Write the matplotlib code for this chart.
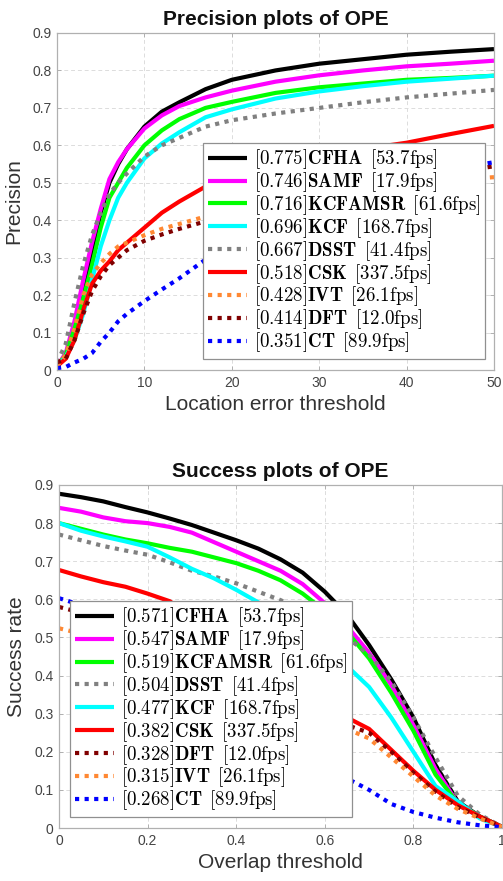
import matplotlib
matplotlib.use("Agg")
import matplotlib.pyplot as plt
import numpy as np

# ---------------- data ----------------
trackers_p = ["CFHA", "SAMF", "KCFAMSR", "KCF", "DSST", "CSK", "IVT", "DFT", "CT"]
scores_p = ["0.775", "0.746", "0.716", "0.696", "0.667", "0.518", "0.428", "0.414", "0.351"]
fps_p = ["53.7", "17.9", "61.6", "168.7", "41.4", "337.5", "26.1", "12.0", "89.9"]

prec_x = [0, 1, 2, 3, 4, 5, 6, 7, 8, 10, 12, 14, 17, 20, 25, 30, 35, 40, 45, 50]
prec_CFHA = [0.01, 0.04, 0.12, 0.22, 0.32, 0.42, 0.50, 0.55, 0.59, 0.65, 0.69, 0.715, 0.75, 0.775, 0.80, 0.818, 0.83, 0.842, 0.85, 0.857]
prec_SAMF = [0.01, 0.045, 0.13, 0.24, 0.34, 0.43, 0.51, 0.555, 0.59, 0.645, 0.68, 0.705, 0.728, 0.746, 0.77, 0.787, 0.80, 0.811, 0.818, 0.826]
prec_KCFAMSR = [0.01, 0.04, 0.11, 0.19, 0.28, 0.38, 0.46, 0.50, 0.54, 0.60, 0.64, 0.67, 0.70, 0.716, 0.74, 0.755, 0.765, 0.775, 0.78, 0.786]
prec_KCF = [0.01, 0.035, 0.08, 0.15, 0.24, 0.33, 0.40, 0.46, 0.50, 0.565, 0.605, 0.635, 0.675, 0.696, 0.725, 0.744, 0.758, 0.77, 0.778, 0.786]
prec_DSST = [0.02, 0.07, 0.18, 0.28, 0.36, 0.42, 0.47, 0.50, 0.525, 0.57, 0.60, 0.62, 0.65, 0.667, 0.685, 0.70, 0.715, 0.728, 0.738, 0.748]
prec_CSK = [0.01, 0.03, 0.08, 0.16, 0.23, 0.265, 0.29, 0.32, 0.34, 0.38, 0.42, 0.45, 0.49, 0.518, 0.55, 0.572, 0.59, 0.607, 0.63, 0.652]
prec_IVT = [0.01, 0.04, 0.11, 0.20, 0.255, 0.285, 0.31, 0.33, 0.34, 0.36, 0.377, 0.39, 0.41, 0.428, 0.45, 0.47, 0.485, 0.497, 0.507, 0.515]
prec_DFT = [0.02, 0.03, 0.08, 0.15, 0.21, 0.25, 0.28, 0.30, 0.32, 0.345, 0.362, 0.377, 0.397, 0.414, 0.445, 0.47, 0.49, 0.51, 0.527, 0.544]
prec_CT = [0.005, 0.008, 0.02, 0.03, 0.045, 0.075, 0.10, 0.13, 0.15, 0.184, 0.215, 0.245, 0.295, 0.351, 0.41, 0.455, 0.49, 0.515, 0.535, 0.555]

trackers_s = ["CFHA", "SAMF", "KCFAMSR", "DSST", "KCF", "CSK", "DFT", "IVT", "CT"]
scores_s = ["0.571", "0.547", "0.519", "0.504", "0.477", "0.382", "0.328", "0.315", "0.268"]
fps_s = ["53.7", "17.9", "61.6", "41.4", "168.7", "337.5", "12.0", "26.1", "89.9"]

succ_x = [0, 0.05, 0.1, 0.15, 0.2, 0.25, 0.3, 0.35, 0.4, 0.45, 0.5, 0.55, 0.6, 0.65, 0.7, 0.75, 0.8, 0.85, 0.9, 0.95, 1.0]
succ_CFHA = [0.877, 0.868, 0.857, 0.842, 0.828, 0.812, 0.795, 0.775, 0.755, 0.733, 0.705, 0.67, 0.62, 0.56, 0.48, 0.39, 0.29, 0.165, 0.07, 0.03, 0.003]
succ_SAMF = [0.84, 0.83, 0.815, 0.805, 0.80, 0.79, 0.775, 0.75, 0.725, 0.70, 0.675, 0.64, 0.59, 0.53, 0.46, 0.375, 0.27, 0.155, 0.065, 0.03, 0.003]
succ_KCFAMSR = [0.80, 0.785, 0.77, 0.757, 0.747, 0.735, 0.725, 0.71, 0.695, 0.675, 0.65, 0.615, 0.57, 0.515, 0.445, 0.355, 0.255, 0.14, 0.065, 0.03, 0.003]
succ_DSST = [0.77, 0.755, 0.74, 0.728, 0.717, 0.697, 0.675, 0.66, 0.642, 0.62, 0.598, 0.57, 0.54, 0.50, 0.455, 0.385, 0.29, 0.185, 0.085, 0.035, 0.003]
succ_KCF = [0.80, 0.78, 0.765, 0.752, 0.738, 0.71, 0.68, 0.655, 0.625, 0.592, 0.55, 0.51, 0.47, 0.425, 0.37, 0.29, 0.20, 0.11, 0.07, 0.025, 0.003]
succ_CSK = [0.677, 0.66, 0.645, 0.633, 0.615, 0.595, 0.555, 0.52, 0.48, 0.44, 0.40, 0.36, 0.32, 0.29, 0.26, 0.205, 0.15, 0.10, 0.06, 0.03, 0.003]
succ_DFT = [0.58, 0.565, 0.55, 0.53, 0.51, 0.49, 0.465, 0.44, 0.41, 0.38, 0.35, 0.32, 0.29, 0.27, 0.25, 0.20, 0.145, 0.095, 0.055, 0.028, 0.003]
succ_IVT = [0.524, 0.51, 0.50, 0.49, 0.475, 0.46, 0.44, 0.42, 0.395, 0.37, 0.34, 0.31, 0.285, 0.26, 0.235, 0.185, 0.135, 0.085, 0.05, 0.025, 0.003]
succ_CT = [0.603, 0.585, 0.56, 0.52, 0.48, 0.44, 0.40, 0.36, 0.32, 0.28, 0.24, 0.20, 0.165, 0.13, 0.10, 0.063, 0.042, 0.027, 0.015, 0.007, 0.002]

prec_data = {"CFHA": prec_CFHA, "SAMF": prec_SAMF, "KCFAMSR": prec_KCFAMSR, "KCF": prec_KCF,
             "DSST": prec_DSST, "CSK": prec_CSK, "IVT": prec_IVT, "DFT": prec_DFT, "CT": prec_CT}
succ_data = {"CFHA": succ_CFHA, "SAMF": succ_SAMF, "KCFAMSR": succ_KCFAMSR, "KCF": succ_KCF,
             "DSST": succ_DSST, "CSK": succ_CSK, "IVT": succ_IVT, "DFT": succ_DFT, "CT": succ_CT}

styles = {
    "CFHA": ("#000000", "-"),
    "SAMF": ("#ff00ff", "-"),
    "KCFAMSR": ("#00ff00", "-"),
    "KCF": ("#00ffff", "-"),
    "DSST": ("#808080", ":"),
    "CSK": ("#ff0000", "-"),
    "IVT": ("#ff8833", ":"),
    "DFT": ("#800000", ":"),
    "CT": ("#0000ff", ":"),
}

# ---------------- style ----------------
plt.rcParams['font.family'] = ['Liberation Sans', 'DejaVu Sans']
plt.rcParams['mathtext.fontset'] = 'cm'

W, H = 503, 881
fig = plt.figure(figsize=(W / 100, H / 100), dpi=100)

ax1 = fig.add_axes([57 / W, (H - 370) / H, 437 / W, 337 / H])
ax2 = fig.add_axes([59 / W, (H - 828) / H, 443 / W, 343 / H])

tick_col = '#444444'
spine_col = '#b0b0b0'


def draw(ax, xs, data, order, scores, fpss, xlim, xticks, xticklabels):
    handles = []
    for name, sc, fp in zip(order, scores, fpss):
        col, ls = styles[name]
        lab = r'$[%s]\mathbf{%s}\ \,[%s\mathrm{fps}]$' % (sc, name, fp)
        if ls == ':':
            ln, = ax.plot(xs, data[name], color=col, lw=3.0, label=lab,
                          linestyle=(0, (1, 1.3)), dash_capstyle='butt')
        else:
            ln, = ax.plot(xs, data[name], color=col, lw=3.0, label=lab,
                          solid_capstyle='butt')
        handles.append(ln)
    ax.set_xlim(*xlim)
    ax.set_ylim(0, 0.9)
    ax.set_xticks(xticks)
    ax.set_xticklabels(xticklabels)
    ax.set_yticks(np.arange(0, 0.91, 0.1))
    ax.set_yticklabels(['0', '0.1', '0.2', '0.3', '0.4', '0.5', '0.6', '0.7', '0.8', '0.9'])
    ax.grid(True, color='#dcdcdc', linestyle=(0, (4, 3)), linewidth=0.7)
    ax.tick_params(direction='in', length=3, width=0.7, colors=spine_col,
                   labelcolor=tick_col, labelsize=10, top=True, right=True, pad=4)
    for s in ax.spines.values():
        s.set_color(spine_col)
        s.set_linewidth(0.9)
    return handles


def make_legend(ax, handles, loc, anchor):
    leg = ax.legend(handles=handles, loc=loc, bbox_to_anchor=anchor,
                    borderaxespad=0, fontsize=13.6, frameon=True, fancybox=False,
                    handlelength=2.1, handletextpad=0.35, labelspacing=-0.05,
                    borderpad=0.25)
    leg.get_frame().set_edgecolor('#909090')
    leg.get_frame().set_linewidth(0.9)
    leg.get_frame().set_alpha(1)
    return leg


h1 = draw(ax1, prec_x, prec_data, trackers_p, scores_p, fps_p, (0, 50),
          [0, 10, 20, 30, 40, 50], ['0', '10', '20', '30', '40', '50'])
ax1.set_title('Precision plots of OPE', fontsize=15, fontweight='bold', pad=6, color='#111111')
ax1.set_xlabel('Location error threshold', fontsize=15, color='#333333', labelpad=4)
ax1.set_ylabel('Precision', fontsize=15, color='#333333', labelpad=6)
make_legend(ax1, h1, 'lower right', (0.98, 0.033))

h2 = draw(ax2, succ_x, succ_data, trackers_s, scores_s, fps_s, (0, 1),
          [0, 0.2, 0.4, 0.6, 0.8, 1.0], ['0', '0.2', '0.4', '0.6', '0.8', '1'])
ax2.set_title('Success plots of OPE', fontsize=15, fontweight='bold', pad=6, color='#111111')
ax2.set_xlabel('Overlap threshold', fontsize=15, color='#333333', labelpad=4)
ax2.set_ylabel('Success rate', fontsize=15, color='#333333', labelpad=6)
make_legend(ax2, h2, 'lower left', (0.025, 0.032))

fig.savefig('out.png', dpi=100)
